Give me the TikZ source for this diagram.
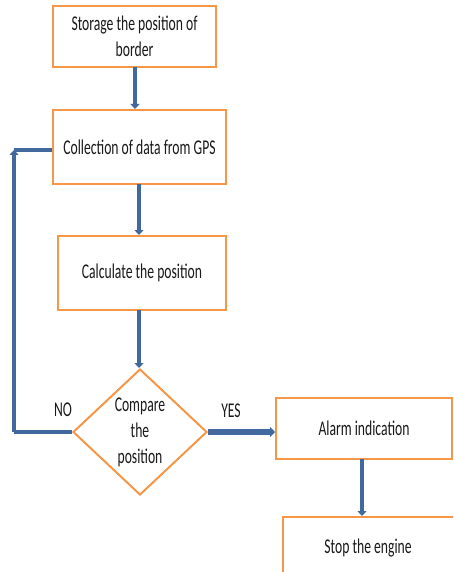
\documentclass[tikz,border=0pt]{standalone}
\usepackage{fontspec}
\setmainfont[FakeStretch=0.65]{Carlito}
\usetikzlibrary{shapes.geometric,arrows.meta}
\definecolor{boxorange}{HTML}{F79646}
\definecolor{arrowblue}{HTML}{41699E}
\definecolor{txt}{HTML}{1A1A1A}
\tikzset{
  stepbox/.style={draw=boxorange, line width=2pt, fill=white, inner sep=0pt, align=center,
    text=txt, font=\fontsize{21}{26.5}\selectfont},
  decision/.style={diamond, draw=boxorange, line width=2pt, fill=white, inner sep=0pt,
    minimum width=134pt, minimum height=126pt, aspect=1.06, align=center, text=txt,
    font=\fontsize{21}{26}\selectfont},
  flow/.style={draw=arrowblue, line width=4pt, -{Triangle[length=5pt,width=9pt]}},
  flowthick/.style={draw=arrowblue, line width=6.5pt, -{Triangle[length=5pt,width=10pt]}},
  plain/.style={draw=arrowblue, line width=4pt},
  lbl/.style={text=txt, font=\fontsize{21}{26}\selectfont, inner sep=0pt},
}
\begin{document}
\begin{tikzpicture}[x=1pt,y=-1pt]
\useasboundingbox (0,0) rectangle (453,572);
\clip (0,0) rectangle (453,572);
\fill[white] (0,0) rectangle (453,572);
\node[stepbox, minimum width=163pt, minimum height=61pt] (b1) at (134.5,36.5) {Storage the position of\\border};
\node[stepbox, minimum width=173pt, minimum height=74pt] (b2) at (139.5,147) {Collection of data from GPS};
\node[stepbox, minimum width=168pt, minimum height=74pt] (b3) at (142,273) {Calculate the position};
\node[decision] (d) at (140,432) {Compare\\the\\position};
\node[stepbox, minimum width=176pt, minimum height=61pt] (b4) at (364,428.5) {Alarm indication};
\node[stepbox, minimum width=190pt, minimum height=90pt, anchor=north west] (b5) at (282,516) {};
\node[lbl] (t5) at (368,548) {Stop the engine};
\node[lbl] (no) at (63,410) {NO};
\node[lbl] (yes) at (231,411) {YES};
\coordinate (c2) at (14,150);
\coordinate (c1) at (c2 |- d.west);
% connectors
\draw[flow] (135,67) coordinate (s1) -- (s1 |- b2.north);
\draw[flow] (139,184) coordinate (s2) -- (s2 |- b3.north);
\draw[flow] (139,310) coordinate (s3) -- (s3 |- d.north);
\draw[flowthick] (d.east) -- (d.east -| b4.west);
\draw[flow] (362,459) coordinate (s4) -- (s4 |- b5.north);
\draw[plain] (d.west) -- (c1);
\draw[flow] (c1) -- (c2);
\draw[plain] (c2) -- (c2 -| b2.west);
\end{tikzpicture}
\end{document}
